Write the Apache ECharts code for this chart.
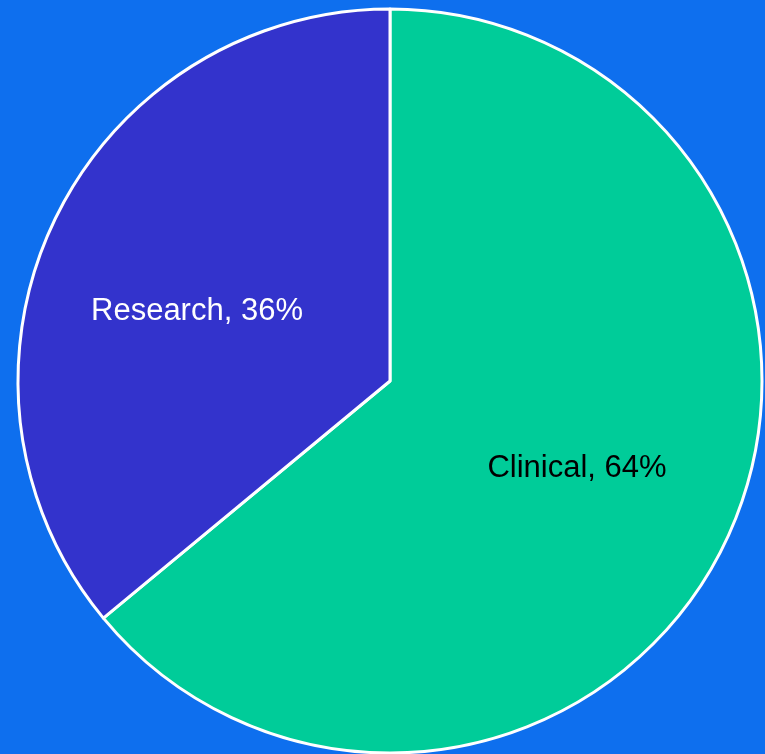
<!DOCTYPE html>
<html><head><meta charset="utf-8">
<script src="https://cdn.jsdelivr.net/npm/echarts@6/dist/echarts.min.js"></script>
<style>html,body{margin:0;padding:0;background:#0E6FEE;}#c{width:765px;height:754px;}</style>
</head><body><div id="c"></div>
<script>
const categories = ['Clinical', 'Research'];
const values = [64, 36];
const colors = ['#00CC99', '#3333CC'];
const labelColors = ['#000000', '#FFFFFF'];

const chart = echarts.init(document.getElementById('c'), null, {renderer: 'canvas'});
chart.setOption({
  backgroundColor: '#0E6FEE',
  animation: false,
  series: [{
    type: 'pie',
    center: [390, 381],
    radius: [0, 372],
    startAngle: 90,
    clockwise: true,
    silent: true,
    data: categories.map((c, i) => ({
      name: c, value: values[i],
      itemStyle: {color: colors[i]},
      label: {color: labelColors[i]}
    })),
    itemStyle: {borderColor: '#FFFFFF', borderWidth: 3},
    label: {
      show: true, position: 'inside',
      formatter: p => p.name + ', ' + Math.round(p.percent) + '%',
      fontFamily: 'Liberation Sans, Arial, sans-serif',
      fontSize: 31
    },
    labelLine: {show: false},
    labelLayout: p => (p.dataIndex === 1 ? {dx: -22, dy: 11} : {dx: 16, dy: 7})
  }]
});
</script></body></html>
